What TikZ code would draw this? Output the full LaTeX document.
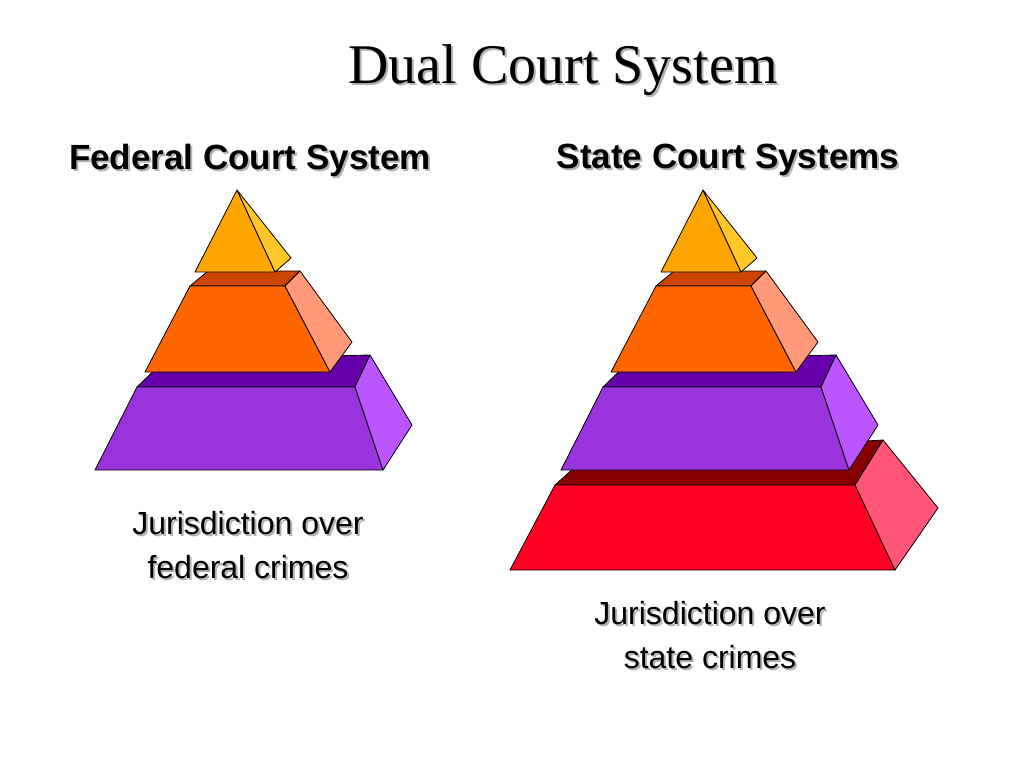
\documentclass[tikz,border=0pt]{standalone}
\usepackage{fontspec}
\setmainfont{Liberation Serif}
\setsansfont{Liberation Sans}
\usetikzlibrary{positioning}
\begin{document}
\begin{tikzpicture}[x=1pt,y=-1pt,
	face/.style={draw=black,line width=0.8pt,line join=round},
	title/.style={font=\fontsize{56}{60}\selectfont},
	head/.style={font=\sffamily\bfseries\fontsize{35}{40}\selectfont},
	body/.style={font=\sffamily\fontsize{32}{44}\selectfont,align=center},
	shade/.style={text=gray!60}]
	\useasboundingbox (0,0) rectangle (1024,768);
	\fill[white] (0,0) rectangle (1024,768);
	% text with shadows
	\node[title,shade] at (565,72) (tts) {Dual Court System};
	\node[title] at (563,70) (tt) {Dual Court System};
	\node[head,shade] at (252,162) (fhs) {Federal Court System};
	\node[head] at (250,160) (fh) {Federal Court System};
	\node[head,shade] at (730,162) (shs) {State Court Systems};
	\node[head] at (728,160) (sh) {State Court Systems};
	\node[body,shade] at (250,547) (fbs) {Jurisdiction over\\federal crimes};
	\node[body] at (248,545) (fb) {Jurisdiction over\\federal crimes};
	\node[body,shade] at (712,637) (sbs) {Jurisdiction over\\state crimes};
	\node[body] at (710,635) (sb) {Jurisdiction over\\state crimes};
	% red tier (state only)
	\draw[face,fill={rgb,255:red,136;green,0;blue,0}] (555,485) -- (585,458) -- (883,440) -- (855,485) -- cycle;
	\draw[face,fill={rgb,255:red,255;green,0;blue,34}] (555,485) -- (855,485) -- (895,570) -- (510,570) -- cycle;
	\draw[face,fill={rgb,255:red,255;green,85;blue,119}] (855,485) -- (883,440) -- (938,508) -- (895,570) -- cycle;
	% common tiers
	\foreach \dx in {0,466}{
		\begin{scope}[xshift=\dx]
			% purple
			\draw[face,fill={rgb,255:red,102;green,0;blue,170}] (137,387) -- (165,360) -- (370,355) -- (355,387) -- cycle;
			\draw[face,fill={rgb,255:red,153;green,51;blue,221}] (137,387) -- (355,387) -- (383,470) -- (95,470) -- cycle;
			\draw[face,fill={rgb,255:red,187;green,85;blue,255}] (355,387) -- (370,355) -- (412,425) -- (383,470) -- cycle;
			% orange
			\draw[face,fill={rgb,255:red,204;green,68;blue,0}] (190,286) -- (208,271) -- (300,271) -- (285,286) -- cycle;
			\draw[face,fill={rgb,255:red,255;green,102;blue,0}] (190,286) -- (285,286) -- (330,372) -- (145,372) -- cycle;
			\draw[face,fill={rgb,255:red,255;green,153;blue,119}] (285,286) -- (300,271) -- (352,342) -- (330,372) -- cycle;
			% top
			\draw[face,fill={rgb,255:red,255;green,165;blue,0}] (237,190) -- (275,272) -- (195,272) -- cycle;
			\draw[face,fill={rgb,255:red,255;green,200;blue,40}] (237,190) -- (291,258) -- (275,272) -- cycle;
		\end{scope}
	}
\end{tikzpicture}
\end{document}
